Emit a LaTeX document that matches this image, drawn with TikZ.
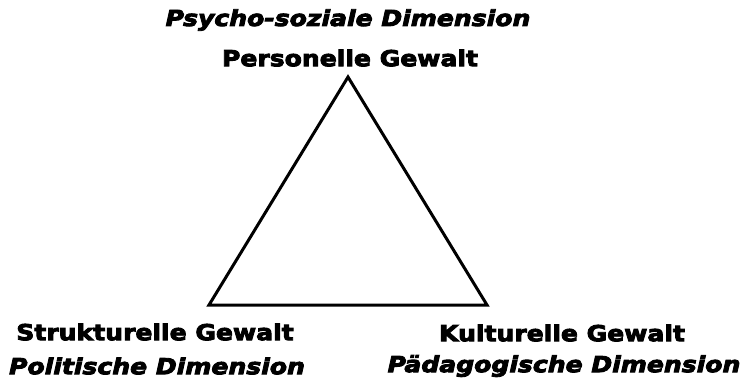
\documentclass[tikz,border=0pt]{standalone}
\usepackage{fontspec}
\setmainfont{DejaVu Sans}[
    BoldFeatures={FakeBold=4, FakeStretch=1.14},
    BoldItalicFeatures={FakeBold=4, FakeStretch=1.14}]
\usepackage{tikz}
\usetikzlibrary{calc, positioning}

\begin{document}
\begin{tikzpicture}[x=1pt, y=-1pt, line join=miter,
    gewalt/.style={font=\fontsize{22}{24}\selectfont\bfseries, inner sep=0pt},
    dimension/.style={font=\fontsize{22}{24}\selectfont\bfseries\itshape, inner sep=0pt}]
    \useasboundingbox (0,0) rectangle (748,381);
    % 1. Dreieck
    \coordinate (oben) at (348,77);
    \coordinate (links) at (209,305);
    \coordinate (rechts) at (487,305);
    \draw[line width=3pt] (oben) -- (rechts) -- (links) -- cycle;
    
    % 2. Beschriftungen
    \node[dimension] (psycho) at (348,20) {Psycho-soziale Dimension};
    \node[gewalt] (personell) at (350,58) {Personelle Gewalt};
    \node[gewalt] (struktur) at (155,332) {Strukturelle Gewalt};
    \node[dimension] (politik) at (157,366) {Politische Dimension};
    \node[gewalt] (kultur) at (562,333) {Kulturelle Gewalt};
    \node[dimension] (paedagogik) at (564,366) {Pädagogische Dimension};
\end{tikzpicture}
\end{document}
